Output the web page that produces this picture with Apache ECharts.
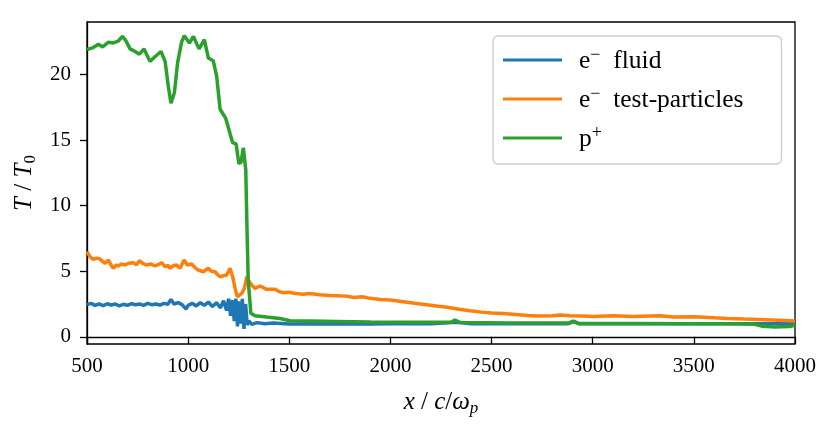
<!DOCTYPE html>
<html>
<head>
<meta charset="utf-8">
<script src="https://cdn.jsdelivr.net/npm/echarts@6/dist/echarts.min.js"></script>
<style>html,body{margin:0;padding:0;background:#fff}#c{width:831px;height:430px}</style>
</head>
<body>
<div id="c"></div>
<script>
// ---- data ----
const seriesNames = ['e- fluid', 'e- test-particles', 'p+'];
const yTicks = [0, 5, 10, 15, 20];

const xBlue = [500,520,540,560,580,600,620,640,660,680,700,720,740,760,780,800,820,840,860,880,900,915,930,950,970,990,1000,1020,1040,1060,1080,1100,1120,1140,1160,1175,1190,1200,1210,1220,1228,1236,1244,1252,1260,1268,1276,1284,1292,1300,1315,1340,1380,1420,1500,1600,1700,1800,1900,2000,2200,2330,2400,2600,2880,2905,2930,3200,3500,3800,3900,4000];
const yBlue = [2.45,2.55,2.4,2.5,2.38,2.52,2.42,2.5,2.35,2.48,2.4,2.52,2.44,2.5,2.4,2.55,2.45,2.5,2.42,2.55,2.48,2.85,2.5,2.6,2.45,2.12,2.4,2.55,2.35,2.6,2.4,2.65,2.3,2.6,2.2,2.75,2.0,2.9,1.6,2.8,1.2,2.9,0.8,2.7,1.0,2.9,0.6,2.5,0.9,1.2,0.95,1.08,1.0,1.05,0.98,1.0,0.97,1.0,0.98,1.0,0.99,1.1,1.0,1.0,1.0,1.15,1.0,1.0,1.0,1.0,1.0,1.0];

const xOrange = [500,515,531,548,564,577,589,606,618,630,642,655,670,688,705,729,745,759,775,795,815,836,852,869,885,900,910,925,943,960,980,996,1018,1035,1050,1075,1100,1115,1133,1145,1158,1175,1191,1207,1220,1232,1243,1255,1265,1278,1290,1306,1320,1331,1355,1388,1430,1451,1471,1500,1530,1569,1600,1650,1700,1734,1780,1820,1860,1899,1950,2000,2064,2120,2180,2229,2280,2340,2393,2450,2500,2558,2620,2680,2723,2800,2838,2888,2950,3000,3100,3200,3333,3400,3500,3600,3664,3750,3850,3950,4000];
const yOrange = [6.5,6.1,5.9,6.0,5.93,5.75,5.6,5.85,5.5,5.22,5.45,5.4,5.55,5.47,5.6,5.65,5.5,5.8,5.6,5.47,5.55,5.4,5.5,5.65,5.35,5.45,5.22,5.4,5.47,5.22,5.85,5.47,5.55,5.25,5.09,4.96,5.22,5.0,4.96,4.75,4.58,4.65,4.71,5.22,4.58,3.69,3.05,3.2,3.31,3.69,4.58,4.12,3.85,3.69,3.87,3.62,3.62,3.44,3.36,3.4,3.3,3.24,3.3,3.2,3.15,3.13,3.1,3.0,3.05,2.93,2.85,2.8,2.67,2.55,2.45,2.34,2.25,2.1,1.98,1.88,1.82,1.78,1.7,1.62,1.58,1.6,1.66,1.6,1.58,1.55,1.6,1.55,1.6,1.5,1.53,1.45,1.4,1.35,1.3,1.25,1.2];

const xGreen = [500,531,556,577,605,630,655,675,691,713,732,759,782,811,836,866,886,902,915,932,948,968,981,1006,1026,1054,1080,1100,1124,1141,1158,1186,1207,1220,1237,1251,1261,1273,1285,1290,1297,1310,1330,1388,1454,1504,1600,1736,1900,2229,2300,2319,2345,2600,2880,2904,2930,3200,3500,3700,3800,3840,3900,3975,4000];
const yGreen = [21.9,22.05,22.3,22.1,22.45,22.4,22.55,22.9,22.6,21.95,21.8,21.55,21.95,21.0,21.35,21.75,21.0,19.1,17.8,18.6,20.9,22.5,22.95,22.4,22.9,21.95,22.65,21.25,21.05,19.85,17.35,16.65,15.5,14.8,14.7,13.2,13.3,14.4,12.7,8.9,4.3,1.8,1.6,1.5,1.4,1.22,1.2,1.17,1.12,1.1,1.1,1.27,1.08,1.05,1.05,1.2,1.02,1.02,1.0,1.0,0.95,0.8,0.75,0.78,0.9];

const toPairs = (xs, ys) => xs.map((x, i) => [x, ys[i]]);

const serif = 'Liberation Serif';
const chart = echarts.init(document.getElementById('c'));
const legendLabels = {
  'e- fluid': '{n|e}{sup|−}{n|  fluid}',
  'e- test-particles': '{n|e}{sup|−}{n|  test-particles}',
  'p+': '{n|p}{sup|+}'
};
const nameRich = {
  i: { fontFamily: serif, fontStyle: 'italic', fontSize: 25, color: '#000', lineHeight: 30 },
  r: { fontFamily: serif, fontSize: 25, color: '#000', lineHeight: 30 },
  sub: { fontFamily: serif, fontStyle: 'italic', fontSize: 17, color: '#000', lineHeight: 14, verticalAlign: 'bottom' },
  subr: { fontFamily: serif, fontSize: 17, color: '#000', lineHeight: 14, verticalAlign: 'bottom' }
};
const lineW = 3.5;
chart.setOption({
  animation: false,
  backgroundColor: '#fff',
  grid: { left: 87, right: 36, top: 22, bottom: 86, show: true, borderColor: '#000', borderWidth: 1.3, backgroundColor: 'transparent' },
  legend: {
    orient: 'vertical', left: 493, top: 36,
    padding: [10, 38, 12, 10],
    icon: 'rect',
    itemWidth: 59, itemHeight: 3, itemGap: 11,
    backgroundColor: '#fff', borderColor: '#cccccc', borderWidth: 1.3, borderRadius: 5,
    formatter: n => legendLabels[n],
    textStyle: {
      padding: [0, 0, 0, 12],
      rich: {
        n: { fontFamily: serif, fontSize: 25.5, color: '#000', lineHeight: 28, verticalAlign: 'bottom' },
        sup: { fontFamily: serif, fontSize: 18, color: '#000', lineHeight: 28, verticalAlign: 'top', padding: [0, 0, 8, 0] }
      }
    },
    data: seriesNames
  },
  xAxis: {
    type: 'value', min: 500, max: 4000, interval: 500,
    name: '{i|x}{r| / }{i|c}{r|/}{i|ω}{sub|p}', nameLocation: 'middle', nameGap: 43,
    nameTextStyle: { rich: nameRich },
    axisLine: { show: true, lineStyle: { color: '#000', width: 1.3 } },
    axisTick: { show: true, length: 7, lineStyle: { color: '#000', width: 1.3 } },
    axisLabel: { margin: 12, fontFamily: serif, fontSize: 21, color: '#000', formatter: v => String(v) },
    splitLine: { show: false }
  },
  yAxis: {
    type: 'value', min: -0.55, max: 24.0,
    name: '{i|T}{r| / }{i|T}{subr|0}', nameLocation: 'middle', nameGap: 41,
    nameTextStyle: { rich: nameRich },
    axisLine: { show: true, lineStyle: { color: '#000', width: 1.3 } },
    axisTick: { show: true, length: 7, customValues: yTicks, lineStyle: { color: '#000', width: 1.3 } },
    axisLabel: { margin: 16, fontFamily: serif, fontSize: 21, color: '#000', customValues: yTicks, formatter: v => String(v) },
    splitLine: { show: false }
  },
  series: [
    { name: seriesNames[0], type: 'line', data: toPairs(xBlue, yBlue), symbol: 'none', showSymbol: false, lineStyle: { color: '#1f77b4', width: lineW }, itemStyle: { color: '#1f77b4' }, z: 2 },
    { name: seriesNames[1], type: 'line', data: toPairs(xOrange, yOrange), symbol: 'none', showSymbol: false, lineStyle: { color: '#ff7f0e', width: lineW }, itemStyle: { color: '#ff7f0e' }, z: 3 },
    { name: seriesNames[2], type: 'line', data: toPairs(xGreen, yGreen), symbol: 'none', showSymbol: false, lineStyle: { color: '#2ca02c', width: lineW }, itemStyle: { color: '#2ca02c' }, z: 4 }
  ]
});
</script>
</body>
</html>
